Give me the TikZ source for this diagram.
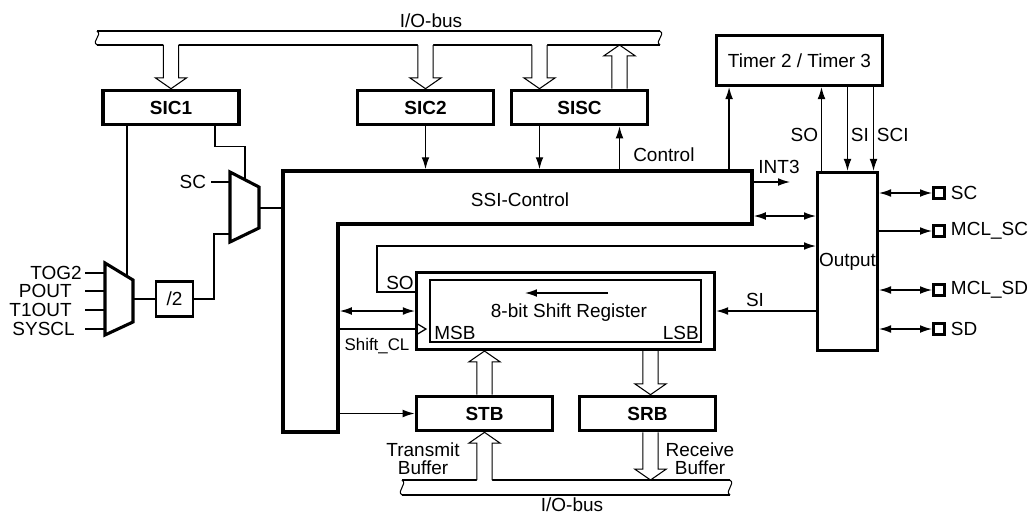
\documentclass[tikz,border=0pt]{standalone}
\usepackage{fontspec}
\setmainfont{Liberation Sans}
\usetikzlibrary{positioning,calc,arrows.meta}

% hollow bus arrow: start, tip, overlap of the white fill behind the start
\newcommand{\openarr}[3]{%
  \coordinate (oaS) at #1;
  \coordinate (oaT) at #2;
  \coordinate (oaB) at ($(oaT)!0.27cm!(oaS)$);
  \coordinate (oaX) at ($(oaS)!-#3!(oaT)$);
  \fill[white] ([xshift=-0.19cm]oaX) -- ([xshift=-0.19cm]oaB) -- ([xshift=-0.39cm]oaB) -- (oaT)
    -- ([xshift=0.39cm]oaB) -- ([xshift=0.19cm]oaB) -- ([xshift=0.19cm]oaX) -- cycle;
  \draw[busline] ([xshift=-0.19cm]oaS) -- ([xshift=-0.19cm]oaB) -- ([xshift=-0.39cm]oaB) -- (oaT)
    -- ([xshift=0.39cm]oaB) -- ([xshift=0.19cm]oaB) -- ([xshift=0.19cm]oaS);
}
% wavy end of a bus
\newcommand{\busend}[3]{%
  \draw[busline] (#1,#2) .. controls (#1+6,#2+4) and (#1-6,#3-4) .. (#1,#3);
}

\begin{document}
\begin{tikzpicture}[x=0.025cm,y=-0.025cm,
    font=\fontsize{13.5}{15}\selectfont,
    >={Latex[length=8.5pt,width=5.5pt]},
    sig/.style={line width=0.9pt},
    one/.style={->},
    both/.style={<->},
    busline/.style={line width=0.75pt,line join=miter},
    regbox/.style={draw,line width=2.6pt,minimum width=3.4cm,minimum height=0.85cm,inner sep=0pt,font=\fontsize{13.5}{15}\selectfont\bfseries},
    unitbox/.style={draw,line width=2.2pt,inner sep=0pt},
    mux/.style={line width=2.2pt,line join=miter},
    pin/.style={draw,line width=2pt,minimum size=0.28cm,inner sep=0pt},
    lbl/.style={inner sep=0pt}]
  \useasboundingbox (0,0) rectangle (1033,514);

  % registers and units
  \node[regbox] (sic1) at (171,107.5) {SIC1};
  \node[regbox] (sic2) at (425.5,107.5) {SIC2};
  \node[regbox] (sisc) at (579.5,107.5) {SISC};
  \node[regbox] (stb) at (484.5,413.5) {STB};
  \node[regbox] (srb) at (647.5,413.5) {SRB};
  \node[unitbox,minimum width=4.15cm,minimum height=1.25cm] (timer) at (799.5,60.5) {Timer 2 / Timer 3};
  \node[unitbox,minimum width=1.5cm,minimum height=4.45cm] (out) at (847.5,261.5) {Output};
  \node[unitbox,minimum width=7.45cm,minimum height=1.925cm] (shift) at (565.5,311) {};
  \node[draw,line width=1.9pt,minimum width=6.775cm,minimum height=1.55cm,inner sep=0pt] (reg) at (565.5,311) {};
  \node (regtxt) at (569,313) {8-bit Shift Register};
  \node[lbl,anchor=base west] (msb) at (434,339) {MSB};
  \node[lbl,anchor=base east] (lsb) at (699,339) {LSB};
  \draw[sig,->] (608,293) -- (525,293);

  % SSI-Control
  \draw[line width=2.6pt,line join=miter] (283,171) -- (752,171) -- (752,224) -- (338,224) -- (338,432) -- (283,432) -- cycle;
  \node (ssi) at (520,200) {SSI-Control};
  \coordinate (ssiN) at (0,169.2);
  \coordinate (ssiE) at (753.8,0);
  \coordinate (ssiW) at (281.2,0);
  \coordinate (ssiI) at (339.8,0);

  % top I/O-bus
  \draw[busline] (97,31) -- (660,31);
  \draw[busline] (97,45) -- (660,45);
  \busend{97}{31}{45}
  \busend{660}{31}{45}
  \node (iotop) at (431,21) {I/O-bus};
  \coordinate (busTop) at (0,45);
  \openarr{(sic1.north |- busTop)}{(sic1.north)}{0.04cm}
  \openarr{(sic2.north |- busTop)}{(sic2.north)}{0.04cm}
  \openarr{([xshift=-1cm]sisc.north |- busTop)}{([xshift=-1cm]sisc.north)}{0.04cm}
  \openarr{([xshift=1cm]sisc.north)}{([xshift=1cm]sisc.north |- busTop)}{0cm}

  % clock selection
  \draw[mux] (105,263) coordinate (m1nw) -- (133,280) coordinate (m1ne) -- (133,322) -- (105,335) -- cycle;
  \draw[mux] (230,172) coordinate (m2nw) -- (259,187) coordinate (m2ne) -- (259,228) -- (230,242) -- cycle;
  \coordinate (m1top) at ($(m1nw)!0.79!(m1ne)$);
  \coordinate (m2top) at ($(m2nw)!0.52!(m2ne)$);
  \coordinate (m1out) at (133,299);
  \coordinate (m2out) at (259,208);
  \coordinate (m2sc) at (230,182);
  \coordinate (m2div) at (230,234);
  \node[draw,line width=1.6pt,minimum width=0.925cm,minimum height=0.875cm,inner sep=0pt] (div) at (174.5,299) {/2};
  \foreach \y/\t/\r/\n in {273/TOG2/82/a, 291/POUT/72/b, 310/T1OUT/72/c, 329/SYSCL/75/d} {
    \node[lbl,anchor=east] (in\n) at (\r,\y) {\t};
    \draw[sig] (105,\y) -- (85,\y);
  }
  \draw[sig] ([xshift=-1.1cm]sic1.south) -- ([xshift=-1.1cm]sic1.south |- m1top);
  \draw[sig] ([xshift=1.1cm]sic1.south) -- ++(0,20) -| (m2top);
  \draw[sig] (m1out) -- (div.west |- m1out);
  \draw[sig] (div.east) -- ++(20,0) |- (m2div);
  \node[anchor=east] (lsc) at (211,182) {SC};
  \draw[sig] (lsc.east) -- (m2sc);
  \draw[sig] (m2out) -- (m2out -| ssiW);

  % control lines
  \draw[sig,->] (sic2.south) -- (sic2.south |- ssiN);
  \draw[sig,->] ([xshift=-1cm]sisc.south) -- ([xshift=-1cm]sisc.south |- ssiN);
  \draw[sig,->] ([xshift=1cm]sisc.south |- ssiN) -- ([xshift=1cm]sisc.south);
  \node[lbl,anchor=west] (lctl) at (633,155) {Control};
  \draw[sig,->] ([xshift=-1.76cm]timer.south |- ssiN) -- ([xshift=-1.76cm]timer.south);
  \draw[sig,->] ([xshift=-0.65cm]out.north) -- ([xshift=-0.65cm]out.north |- timer.south) node[pos=0.43,left,inner sep=2pt] (lso) {SO};
  \draw[sig,->] (out.north |- timer.south) -- (out.north) node[pos=0.57,right,inner sep=2pt] (lsi) {SI};
  \draw[sig,->] ([xshift=0.65cm]out.north |- timer.south) -- ([xshift=0.65cm]out.north) node[pos=0.57,right,inner sep=2pt] (lsci) {SCI};
  \coordinate (int3) at (790,182);
  \draw[sig,->] (int3 -| ssiE) -- (int3);
  \node (lint) at (779,167) {INT3};
  \coordinate (ctl) at (0,216);
  \draw[sig,<->] (ctl -| ssiE) -- (ctl -| out.west);

  % shift register paths
  \coordinate (soK) at (377,246);
  \draw[sig,->] ([yshift=0.475cm]shift.west) -| (soK) -- (soK -| out.west);
  \node (lso2) at (400,283) {SO};
  \draw[sig,->] (out.west |- shift.east) -- (shift.east);
  \node (lsi2) at (755,300) {SI};
  \draw[sig,<->] (ssiI |- shift.west) -- (shift.west);
  \coordinate (clk) at ([yshift=-0.45cm]shift.west);
  \draw[sig] (ssiI |- clk) -- (clk);
  \draw[sig] ($(clk)+(1,-6)$) -- ($(clk)+(11,0)$) -- ($(clk)+(1,6)$);
  \node[font=\fontsize{12}{14}\selectfont] (lclk) at (377,346) {Shift\_CL};
  \draw[sig,->] (ssiI |- stb.west) -- (stb.west);

  % bottom I/O-bus
  \draw[busline] (402,480) -- (730,480);
  \draw[busline] (402,495) -- (730,495);
  \busend{402}{480}{495}
  \busend{730}{480}{495}
  \node (iobot) at (572,504.5) {I/O-bus};
  \coordinate (busBot) at (0,480);
  \openarr{(stb.south |- busBot)}{(stb.south)}{0.04cm}
  \openarr{([xshift=0.075cm]srb.south)}{([xshift=0.075cm]srb.south |- busBot)}{0cm}
  \openarr{(stb.north)}{(stb.north |- shift.south)}{0cm}
  \openarr{([xshift=0.075cm]srb.north |- shift.south)}{([xshift=0.075cm]srb.north)}{0cm}
  \node[align=center,font=\fontsize{13.5}{13}\selectfont] (ltx) at (423,459) {Transmit\\Buffer};
  \node[align=center,font=\fontsize{13.5}{13}\selectfont] (lrx) at (700,459) {Receive\\Buffer};

  % pins
  \foreach \y/\t/\n/\a in {193/SC/sc/both, 231/MCL\_SC/mclsc/one, 290/MCL\_SD/mclsd/both, 329/SD/sd/both} {
    \node[pin] (p\n) at (939,\y) {};
    \node[right=0pt of p\n] (l\n) {\t};
    \draw[sig,\a] (out.east |- p\n) -- (p\n);
  }
\end{tikzpicture}
\end{document}
